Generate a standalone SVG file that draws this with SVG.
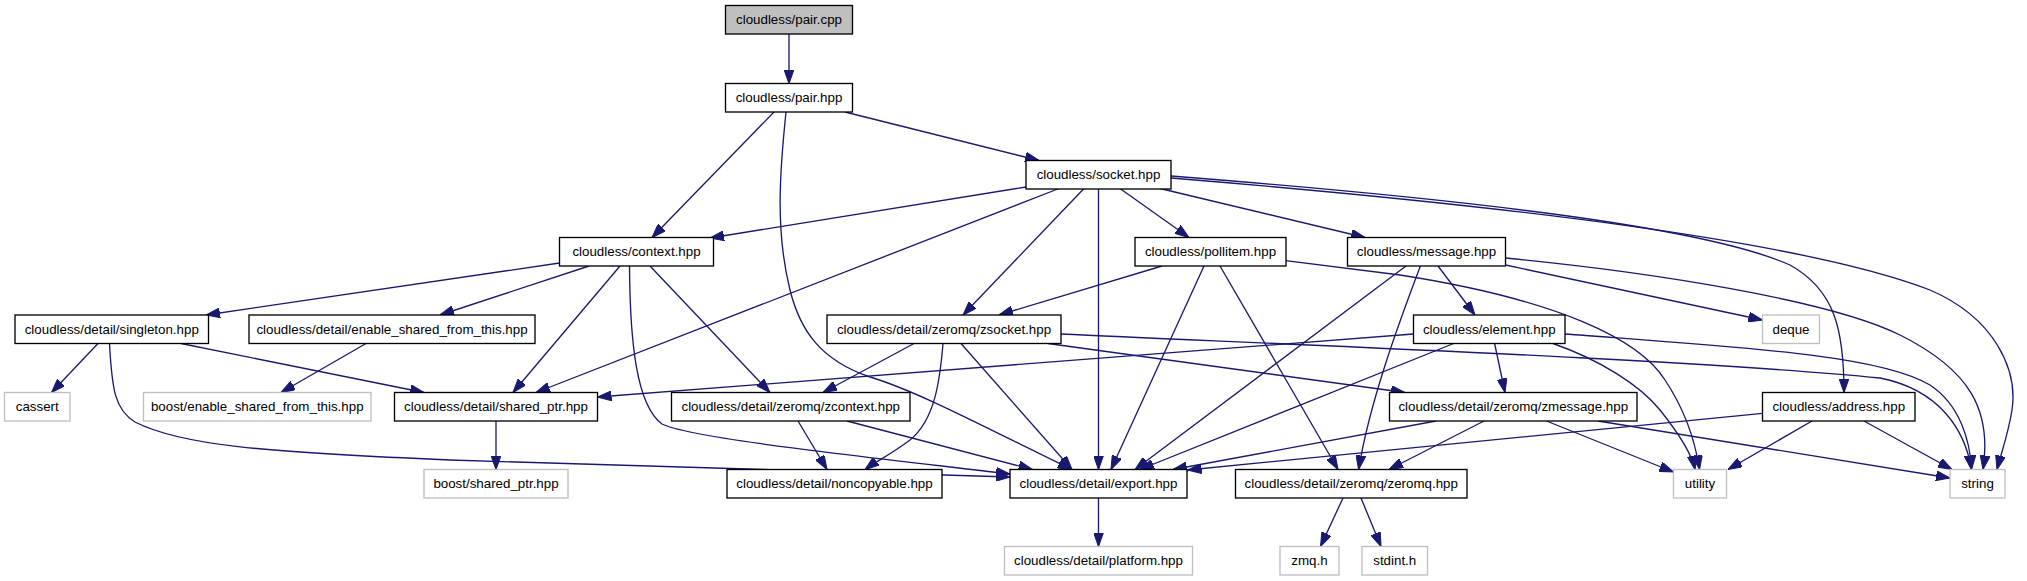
<svg xmlns="http://www.w3.org/2000/svg" width="2027" height="581" viewBox="0 0 2027 581">
<style>
.n rect{fill:#fff;stroke:#000;stroke-width:1.33}
.n.root rect{fill:#bfbfbf}
.n.ext rect{stroke:#bfbfbf}
.n text{font-family:"Liberation Sans",Arial,sans-serif;font-size:13.33px;fill:#000;text-anchor:middle}
#edges path{fill:none;stroke:#191970;stroke-width:1.33;marker-end:url(#arr)}
</style>
<defs>
<marker id="arr" markerUnits="userSpaceOnUse" markerWidth="14" markerHeight="10" viewBox="0 0 13.3 9.4" refX="13.3" refY="4.7" orient="auto">
<path d="M0,0 L13.3,4.7 L0,9.4 z" fill="#191970" stroke="#191970" stroke-width="1"/>
</marker>
</defs>
<rect width="2027" height="581" fill="#fff"/>
<g id="edges">
<path d="M789,34 L789,83.5"/>
<path d="M774,112 L652,237.5"/>
<path d="M786,112 C 780,170 775,230 790,290 C 800,330 820,360 870,377 C 920,392 990,430 1072,469.5"/>
<path d="M845,112 L1039,160.5"/>
<path d="M1026,187 L710,238"/>
<path d="M1059,188.5 L536,392.5"/>
<path d="M1084,188.5 L963,315"/>
<path d="M1098.5,188.5 L1098.5,469.5"/>
<path d="M1120,188.5 L1189,237.5"/>
<path d="M1160,188.5 L1365,237.5"/>
<path d="M1171,176 C 1450,198 1700,225 1790,265 C 1835,290 1844,330 1844,392.5"/>
<path d="M1171,178 C 1500,205 1800,240 1930,290 C 1995,318 2018,370 2012,410 C 2008,435 2002,450 1997,469.5"/>
<path d="M559.5,263 L206,315"/>
<path d="M589,266 L440,315"/>
<path d="M620,266 L513,392.5"/>
<path d="M650,266 L770,392.5"/>
<path d="M629.5,266 C 630,340 636,405 662,424 C 690,438 850,455 1010,474"/>
<path d="M98,343.5 L51.5,392.5"/>
<path d="M181,343.5 L424,392.5"/>
<path d="M109.5,343.5 C 112,390 115,410 135,422 C 180,445 260,452 450,460 C 700,468 900,472 1010,477"/>
<path d="M366,343.5 L281,392.5"/>
<path d="M496,421 L496,469.5"/>
<path d="M1162,266 L999,315"/>
<path d="M1204,266 L1111,469.5"/>
<path d="M1220,266 L1338,469.5"/>
<path d="M1285.7,260.7 L1400,275 C 1560,300 1640,340 1665,380 C 1685,410 1695,440 1699.5,469.5"/>
<path d="M1505.5,265 L1762.5,320"/>
<path d="M1438,266 L1475,315"/>
<path d="M1406,266 L1135,469.5"/>
<path d="M1420.4,266 C 1400,320 1370,400 1358.6,469.5"/>
<path d="M1505.5,258 C 1650,272 1830,300 1900,335 C 1970,370 1992,410 1983,469.5"/>
<path d="M914,343.5 L823,392.5"/>
<path d="M943,343.5 C 940,380 935,420 910,440 C 890,455 875,462 865,469.5"/>
<path d="M961,343.5 L1072,469.5"/>
<path d="M1048,343.5 L1405,392.5"/>
<path d="M1061,334 C 1300,345 1700,360 1880,378 C 1940,390 1965,430 1971.5,469.5"/>
<path d="M1413.5,334 L597.5,397"/>
<path d="M1453.6,343.5 L1140,469.5"/>
<path d="M1494.6,343.5 L1505,392.5"/>
<path d="M1553,343.5 C 1600,360 1640,385 1660,410 C 1680,435 1692,455 1695,469.5"/>
<path d="M1565,334 C 1750,348 1880,355 1930,385 C 1960,405 1970,440 1971.5,469.5"/>
<path d="M798,421 L827,469.5"/>
<path d="M847,421 L1032.5,469.5"/>
<path d="M1436,421 L1173,469.5"/>
<path d="M1484,421 L1389,469.5"/>
<path d="M1546.5,421 L1673.5,472"/>
<path d="M1598,421 L1950,478"/>
<path d="M1762.5,413.3 L1187.5,470"/>
<path d="M1812,421 L1728,469.5"/>
<path d="M1864,421 L1952,469.5"/>
<path d="M1098.5,498 L1098.5,546.5"/>
<path d="M1343,498 L1320.5,546.5"/>
<path d="M1361,498 L1381,546.5"/>
</g>
<g id="n_pair_cpp" class="n root"><rect x="725.5" y="5.5" width="127" height="28.5"/><text x="789" y="24.3">cloudless/pair.cpp</text></g>
<g id="n_pair_hpp" class="n"><rect x="725.5" y="83.5" width="127" height="28.5"/><text x="789" y="102.3">cloudless/pair.hpp</text></g>
<g id="n_socket" class="n"><rect x="1026" y="160.5" width="145" height="28.5"/><text x="1098.5" y="179.3">cloudless/socket.hpp</text></g>
<g id="n_context" class="n"><rect x="559.5" y="237.5" width="154" height="28.5"/><text x="636.5" y="256.3">cloudless/context.hpp</text></g>
<g id="n_pollitem" class="n"><rect x="1135" y="237.5" width="151" height="28.5"/><text x="1210.5" y="256.3">cloudless/pollitem.hpp</text></g>
<g id="n_message" class="n"><rect x="1347.5" y="237.5" width="158" height="28.5"/><text x="1426.5" y="256.3">cloudless/message.hpp</text></g>
<g id="n_singleton" class="n"><rect x="15" y="315" width="193.5" height="28.5"/><text x="111.75" y="333.8">cloudless/detail/singleton.hpp</text></g>
<g id="n_enable_detail" class="n"><rect x="249" y="315" width="286" height="28.5"/><text x="392" y="333.8">cloudless/detail/enable_shared_from_this.hpp</text></g>
<g id="n_zsocket" class="n"><rect x="827" y="315" width="234" height="28.5"/><text x="944" y="333.8">cloudless/detail/zeromq/zsocket.hpp</text></g>
<g id="n_element" class="n"><rect x="1413.5" y="315" width="151.5" height="28.5"/><text x="1489.25" y="333.8">cloudless/element.hpp</text></g>
<g id="n_deque" class="n ext"><rect x="1762.5" y="315" width="57" height="28.5"/><text x="1791" y="333.8">deque</text></g>
<g id="n_cassert" class="n ext"><rect x="4.5" y="392.5" width="65.5" height="28.5"/><text x="37.25" y="411.3">cassert</text></g>
<g id="n_boost_enable" class="n ext"><rect x="143.5" y="392.5" width="227.5" height="28.5"/><text x="257.25" y="411.3">boost/enable_shared_from_this.hpp</text></g>
<g id="n_shared_ptr" class="n"><rect x="394.5" y="392.5" width="203" height="28.5"/><text x="496" y="411.3">cloudless/detail/shared_ptr.hpp</text></g>
<g id="n_zcontext" class="n"><rect x="671.5" y="392.5" width="238.5" height="28.5"/><text x="790.75" y="411.3">cloudless/detail/zeromq/zcontext.hpp</text></g>
<g id="n_zmessage" class="n"><rect x="1389.5" y="392.5" width="247.5" height="28.5"/><text x="1513.25" y="411.3">cloudless/detail/zeromq/zmessage.hpp</text></g>
<g id="n_address" class="n"><rect x="1762.5" y="392.5" width="152.5" height="28.5"/><text x="1838.75" y="411.3">cloudless/address.hpp</text></g>
<g id="n_boost_shared_ptr" class="n ext"><rect x="424" y="469.5" width="144" height="28.5"/><text x="496" y="488.3">boost/shared_ptr.hpp</text></g>
<g id="n_noncopyable" class="n"><rect x="727" y="469.5" width="215" height="28.5"/><text x="834.5" y="488.3">cloudless/detail/noncopyable.hpp</text></g>
<g id="n_export" class="n"><rect x="1010" y="469.5" width="177" height="28.5"/><text x="1098.5" y="488.3">cloudless/detail/export.hpp</text></g>
<g id="n_zeromq" class="n"><rect x="1235.5" y="469.5" width="231.5" height="28.5"/><text x="1351.25" y="488.3">cloudless/detail/zeromq/zeromq.hpp</text></g>
<g id="n_utility" class="n ext"><rect x="1673.5" y="469.5" width="53" height="28.5"/><text x="1700" y="488.3">utility</text></g>
<g id="n_string" class="n ext"><rect x="1950" y="469.5" width="55" height="28.5"/><text x="1977.5" y="488.3">string</text></g>
<g id="n_platform" class="n ext"><rect x="1004.5" y="546.5" width="188" height="28.5"/><text x="1098.5" y="565.3">cloudless/detail/platform.hpp</text></g>
<g id="n_zmq_h" class="n ext"><rect x="1280" y="546.5" width="59" height="28.5"/><text x="1309.5" y="565.3">zmq.h</text></g>
<g id="n_stdint_h" class="n ext"><rect x="1362" y="546.5" width="65.5" height="28.5"/><text x="1394.75" y="565.3">stdint.h</text></g>
</svg>
